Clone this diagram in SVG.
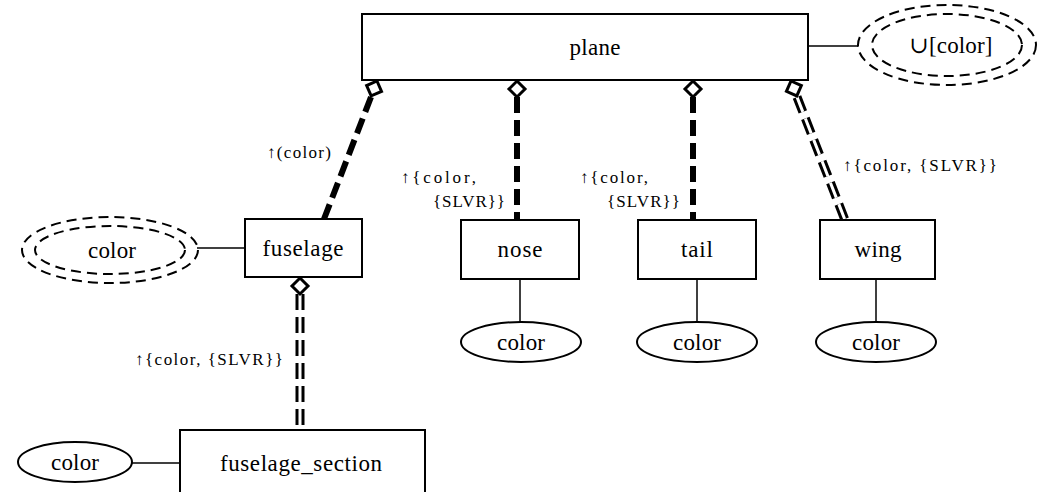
<svg xmlns="http://www.w3.org/2000/svg" width="1039" height="492" viewBox="0 0 1039 492" font-family="Liberation Serif, DejaVu Serif, serif">
<style>
.box{fill:#fff;stroke:#000;stroke-width:2}
.ell{fill:#fff;stroke:#000;stroke-width:2}
.dell{fill:none;stroke:#000;stroke-width:2;stroke-dasharray:10,6}
.ln{stroke:#000;stroke-width:1.5;fill:none}
.t{font-size:23px;text-anchor:middle;dominant-baseline:central;fill:#000}
.lbl{font-size:17px;fill:#000}
.thick{stroke:#000;stroke-width:6;stroke-dasharray:16,7;fill:none}
.dblo{stroke:#000;stroke-width:9;stroke-dasharray:16,7;fill:none}
.dbli{stroke:#fff;stroke-width:3;stroke-dasharray:16,7;fill:none}
.dia{fill:#fff;stroke:#000;stroke-width:3}
</style>
<defs>
  <polygon id="dmd" points="0,0 8,8 0,16 -8,8"/>
</defs>
<g id="connectors">
  <line class="ln" x1="808" y1="46" x2="858" y2="46"/>
  <line class="ln" x1="197" y1="248" x2="245" y2="248"/>
  <line class="ln" x1="132" y1="463" x2="180" y2="463"/>
  <line class="ln" x1="520" y1="279" x2="520" y2="322"/>
  <line class="ln" x1="697" y1="279" x2="697" y2="322"/>
  <line class="ln" x1="876" y1="279" x2="876" y2="322"/>
  <line class="thick" x1="371" y1="97" x2="324" y2="219"/>
  <use href="#dmd" class="dia" transform="translate(377,81) rotate(21.4)"/>
  <line class="thick" x1="517" y1="97" x2="517" y2="220"/>
  <use href="#dmd" class="dia" transform="translate(517,81)"/>
  <line class="thick" x1="693" y1="97" x2="693" y2="220"/>
  <use href="#dmd" class="dia" transform="translate(693,81)"/>
  <line class="dblo" x1="797" y1="97" x2="845" y2="220"/>
  <line class="dbli" x1="797" y1="97" x2="845" y2="220"/>
  <use href="#dmd" class="dia" transform="translate(791,81) rotate(-21.2)"/>
  <line class="dblo" x1="300" y1="294" x2="300" y2="430"/>
  <line class="dbli" x1="300" y1="294" x2="300" y2="430"/>
  <use href="#dmd" class="dia" transform="translate(300,278)"/>
  <text class="lbl" x="267" y="158" textLength="64" lengthAdjust="spacing">↑(color)</text>
  <text class="lbl" x="401" y="183" textLength="75" lengthAdjust="spacing">↑{color,</text>
  <text class="lbl" x="433" y="207" textLength="72" lengthAdjust="spacing">{SLVR}}</text>
  <text class="lbl" x="580" y="183" textLength="68" lengthAdjust="spacing">↑{color,</text>
  <text class="lbl" x="607" y="207" textLength="73" lengthAdjust="spacing">{SLVR}}</text>
  <text class="lbl" x="843" y="171" textLength="154" lengthAdjust="spacing">↑{color, {SLVR}}</text>
  <text class="lbl" x="135" y="365" textLength="148" lengthAdjust="spacing">↑{color, {SLVR}}</text>
</g>
<g id="plane">
  <rect class="box" x="362" y="14" width="446" height="66"/>
  <text class="t" x="595" y="47" textLength="51" lengthAdjust="spacing">plane</text>
</g>
<g id="plane_color">
  <ellipse class="dell" cx="947" cy="45" rx="89" ry="40"/>
  <ellipse class="dell" cx="947" cy="45" rx="75" ry="31"/>
  <text class="t" x="951" y="45" textLength="83" lengthAdjust="spacing">∪[color]</text>
</g>
<g id="fuselage">
  <rect class="box" x="245" y="219" width="117" height="58"/>
  <text class="t" x="303" y="248" textLength="81" lengthAdjust="spacing">fuselage</text>
</g>
<g id="fuselage_color">
  <ellipse class="dell" cx="110" cy="250" rx="88" ry="33"/>
  <ellipse class="dell" cx="110" cy="250" rx="75" ry="24"/>
  <text class="t" x="112" y="250" textLength="48" lengthAdjust="spacing">color</text>
</g>
<g id="nose">
  <rect class="box" x="461" y="220" width="118" height="59"/>
  <text class="t" x="520" y="249" textLength="45" lengthAdjust="spacing">nose</text>
</g>
<g id="nose_color">
  <ellipse class="ell" cx="521" cy="342" rx="60" ry="20"/>
  <text class="t" x="521" y="342" textLength="48" lengthAdjust="spacing">color</text>
</g>
<g id="tail">
  <rect class="box" x="638" y="220" width="118" height="59"/>
  <text class="t" x="697" y="249" textLength="32" lengthAdjust="spacing">tail</text>
</g>
<g id="tail_color">
  <ellipse class="ell" cx="697" cy="342" rx="60" ry="20"/>
  <text class="t" x="697" y="342" textLength="48" lengthAdjust="spacing">color</text>
</g>
<g id="wing">
  <rect class="box" x="820" y="220" width="115" height="59"/>
  <text class="t" x="878" y="249" textLength="47" lengthAdjust="spacing">wing</text>
</g>
<g id="wing_color">
  <ellipse class="ell" cx="876" cy="342" rx="60" ry="20"/>
  <text class="t" x="876" y="342" textLength="48" lengthAdjust="spacing">color</text>
</g>
<g id="fuselage_section">
  <rect class="box" x="180" y="430" width="245" height="70"/>
  <text class="t" x="301" y="463" textLength="162" lengthAdjust="spacing">fuselage_section</text>
</g>
<g id="fs_color">
  <ellipse class="ell" cx="75" cy="462" rx="57" ry="20"/>
  <text class="t" x="75" y="462" textLength="48" lengthAdjust="spacing">color</text>
</g>
</svg>
